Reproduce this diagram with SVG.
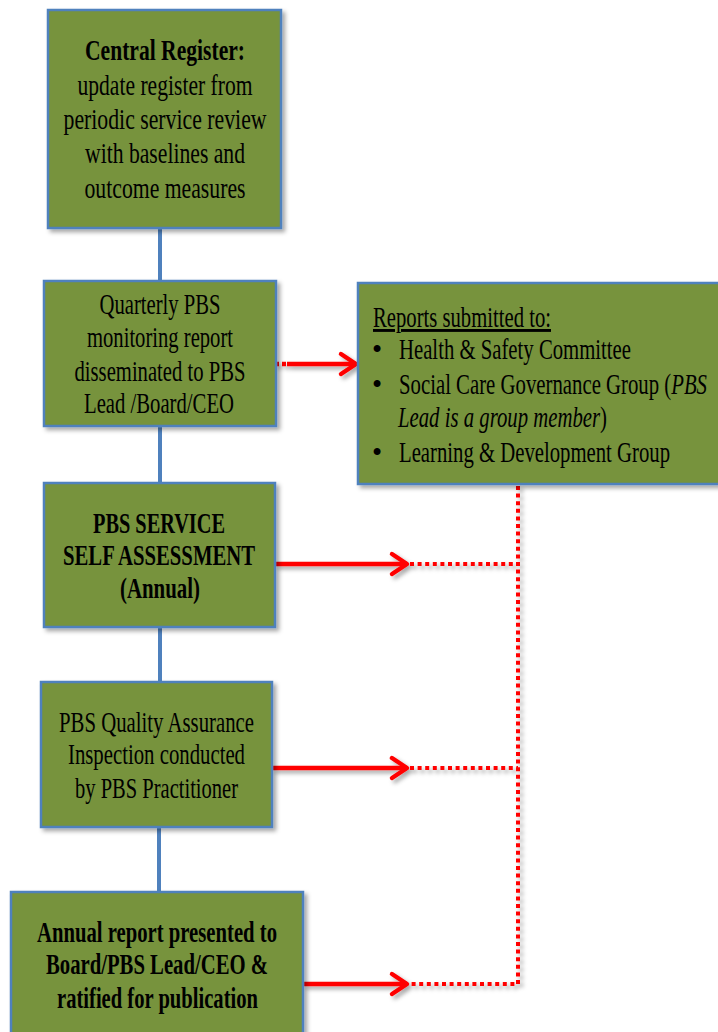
<svg xmlns="http://www.w3.org/2000/svg" width="718" height="1032" viewBox="0 0 718 1032">
<style>
.box{fill:#77933c;stroke:#4f81bd;stroke-width:2.5;}
.t{font-family:"Liberation Serif","Times New Roman",serif;font-size:29px;fill:#000;}
.c{text-anchor:middle;}
.b{font-weight:bold;}
.blue{stroke:#4f81bd;stroke-width:4;fill:none;}
.red{stroke:#ff0000;stroke-width:4.5;fill:none;}
.dot{stroke:#ff0000;stroke-width:4;fill:none;stroke-dasharray:4 3.6;}
</style>
<defs>
<filter id="sh" x="-10%" y="-10%" width="130%" height="130%">
<feDropShadow dx="3" dy="3" stdDeviation="2" flood-color="#000" flood-opacity="0.35"/>
</filter>
<marker id="ah" markerUnits="userSpaceOnUse" markerWidth="24" markerHeight="30" refX="17" refY="12" orient="auto" overflow="visible">
<path d="M2,2 L17,12 L2,22" fill="none" stroke="#ff0000" stroke-width="4.5" stroke-linecap="round" stroke-linejoin="round"/>
</marker>
</defs>
<rect width="718" height="1032" fill="#ffffff"/>

<g id="connectors">
<path class="blue" d="M160,228 V281 M160,426 V483 M160,627 V682 M159,827 V892"/>
<g filter="url(#sh)">
<path class="dot" d="M518,486 V984 H410 M410,564 H518 M410,768 H518"/>
<path d="M275,364 H287" stroke="#ff0000" stroke-width="4.5" stroke-dasharray="4 3"/>
<path class="red" d="M287,364 H356" marker-end="url(#ah)"/>
<path class="red" d="M275,564 H407" marker-end="url(#ah)"/>
<path class="red" d="M272,768 H407" marker-end="url(#ah)"/>
<path class="red" d="M303,984 H407" marker-end="url(#ah)"/>
</g>
</g>

<g id="central-register">
<rect class="box" x="48" y="10" width="233" height="218" filter="url(#sh)"/>
<text class="t c b" x="165" y="60" textLength="160" lengthAdjust="spacingAndGlyphs">Central Register:</text>
<text class="t c" x="165" y="95" textLength="175" lengthAdjust="spacingAndGlyphs">update register from</text>
<text class="t c" x="165" y="129" textLength="203" lengthAdjust="spacingAndGlyphs">periodic service review</text>
<text class="t c" x="165" y="163" textLength="160" lengthAdjust="spacingAndGlyphs">with baselines and</text>
<text class="t c" x="165" y="198" textLength="161" lengthAdjust="spacingAndGlyphs">outcome measures</text>
</g>

<g id="quarterly-report">
<rect class="box" x="44" y="281" width="232" height="145" filter="url(#sh)"/>
<text class="t c" x="160" y="314" textLength="121" lengthAdjust="spacingAndGlyphs">Quarterly PBS</text>
<text class="t c" x="160" y="347" textLength="146" lengthAdjust="spacingAndGlyphs">monitoring report</text>
<text class="t c" x="160" y="381" textLength="171" lengthAdjust="spacingAndGlyphs">disseminated to PBS</text>
<text class="t c" x="159" y="413" textLength="150" lengthAdjust="spacingAndGlyphs">Lead /Board/CEO</text>
</g>

<g id="reports-submitted">
<rect class="box" x="358" y="283" width="372" height="201" filter="url(#sh)"/>
<text class="t" x="373" y="327" textLength="178" lengthAdjust="spacingAndGlyphs" text-decoration="underline">Reports submitted to:</text>
<text class="t" x="372" y="359">•</text>
<text class="t" x="399" y="359" textLength="232" lengthAdjust="spacingAndGlyphs">Health &amp; Safety Committee</text>
<text class="t" x="372" y="394">•</text>
<text class="t" x="399" y="394" textLength="308" lengthAdjust="spacingAndGlyphs">Social Care Governance Group (<tspan font-style="italic">PBS</tspan></text>
<text class="t" x="398" y="427" textLength="209" lengthAdjust="spacingAndGlyphs"><tspan font-style="italic">Lead is a group member</tspan>)</text>
<text class="t" x="372" y="462">•</text>
<text class="t" x="399" y="462" textLength="271" lengthAdjust="spacingAndGlyphs">Learning &amp; Development Group</text>
</g>

<g id="self-assessment">
<rect class="box" x="44" y="483" width="231" height="144" filter="url(#sh)"/>
<text class="t c b" x="159" y="533" textLength="132" lengthAdjust="spacingAndGlyphs">PBS SERVICE</text>
<text class="t c b" x="159" y="565" textLength="192" lengthAdjust="spacingAndGlyphs">SELF ASSESSMENT</text>
<text class="t c b" x="160" y="598" textLength="80" lengthAdjust="spacingAndGlyphs">(Annual)</text>
</g>

<g id="quality-assurance">
<rect class="box" x="41" y="682" width="231" height="145" filter="url(#sh)"/>
<text class="t c" x="156.5" y="732" textLength="195" lengthAdjust="spacingAndGlyphs">PBS Quality Assurance</text>
<text class="t c" x="156.5" y="764" textLength="177" lengthAdjust="spacingAndGlyphs">Inspection conducted</text>
<text class="t c" x="156.5" y="798" textLength="163" lengthAdjust="spacingAndGlyphs">by PBS Practitioner</text>
</g>

<g id="annual-report">
<rect class="box" x="11" y="892" width="292" height="150" filter="url(#sh)"/>
<text class="t c b" x="157" y="942" textLength="240" lengthAdjust="spacingAndGlyphs">Annual report presented to</text>
<text class="t c b" x="157" y="974" textLength="222" lengthAdjust="spacingAndGlyphs">Board/PBS Lead/CEO &amp;</text>
<text class="t c b" x="157.5" y="1008" textLength="201" lengthAdjust="spacingAndGlyphs">ratified for publication</text>
</g>
</svg>
